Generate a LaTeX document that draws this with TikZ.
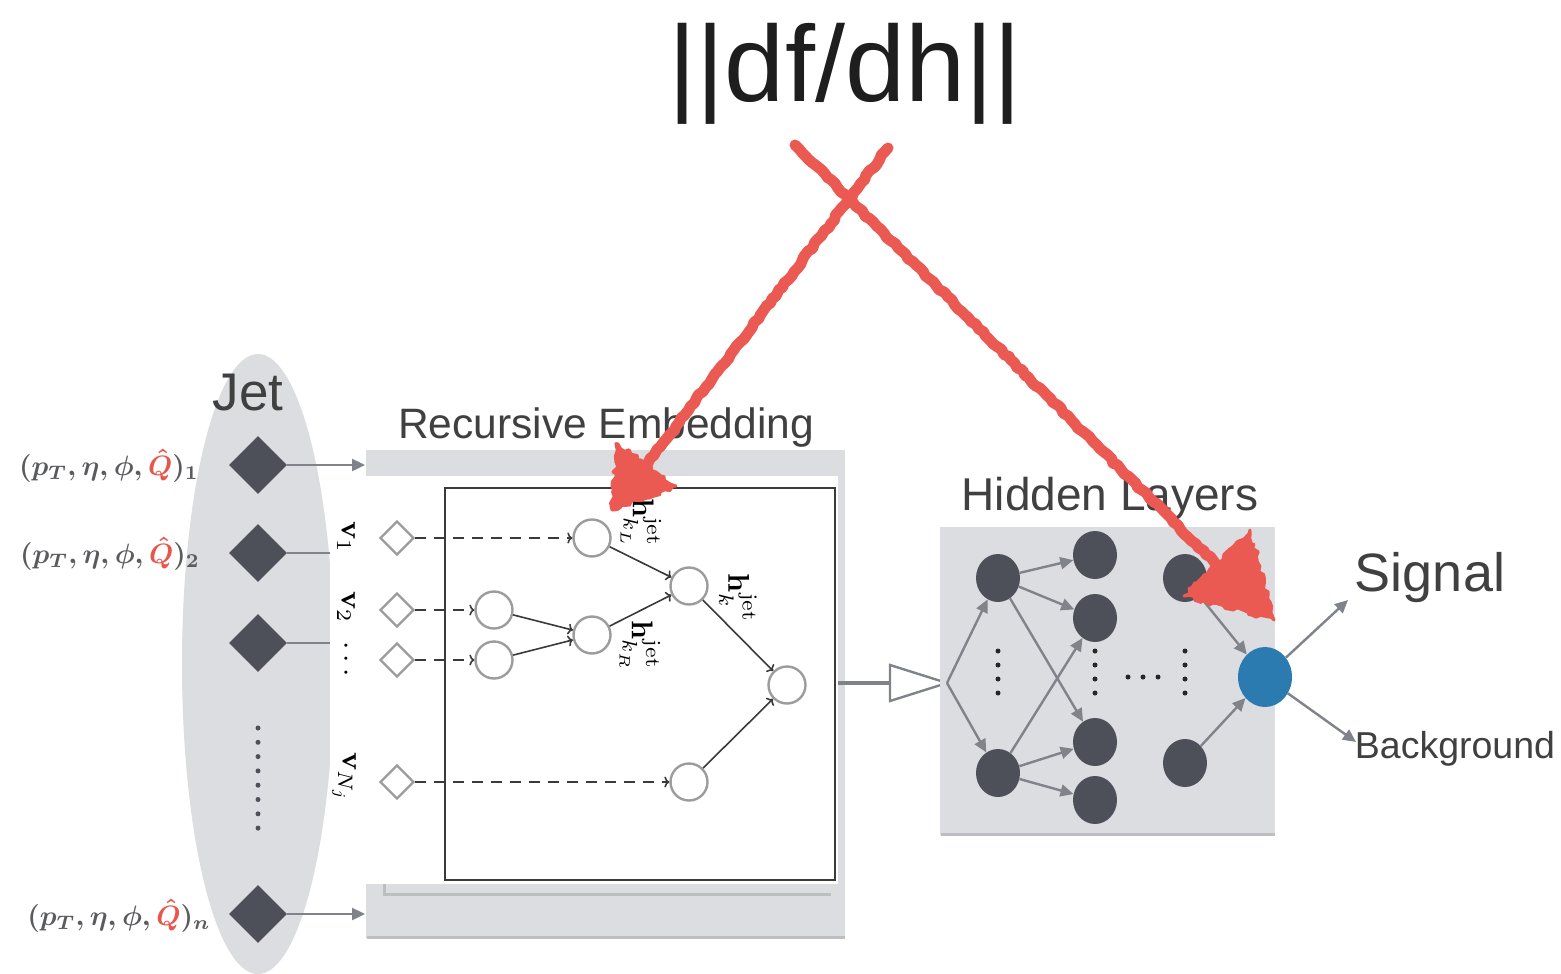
\documentclass[tikz,border=0pt]{standalone}
\usepackage[no-math]{fontspec}
\setmainfont{Liberation Sans}
\usetikzlibrary{arrows.meta,shapes.geometric,decorations.pathmorphing}

\definecolor{panelgray}{HTML}{DCDDE0}
\definecolor{shadowgray}{HTML}{BDBEC1}
\definecolor{nodedark}{HTML}{4D5059}
\definecolor{arrowgray}{HTML}{80838A}
\definecolor{ringgray}{HTML}{9C9C9C}
\definecolor{inkdark}{HTML}{3A3A3A}
\definecolor{labelgray}{HTML}{5A5B5E}
\definecolor{qred}{HTML}{E8554C}
\definecolor{outblue}{HTML}{2B7BB0}
\definecolor{penred}{HTML}{EA5A52}
\definecolor{titleink}{HTML}{1E1E1E}

\tikzset{
  jetdia/.style={diamond, fill=nodedark, minimum width=58pt, minimum height=58pt, inner sep=0pt},
  opendia/.style={diamond, draw=ringgray, line width=2.4pt, fill=white, minimum width=34pt, minimum height=34pt, inner sep=0pt},
  ring/.style={circle, draw=ringgray, line width=2.4pt, fill=white, minimum size=37pt, inner sep=0pt},
  hid/.style={ellipse, fill=nodedark, minimum width=44pt, minimum height=48pt, inner sep=0pt},
  outnode/.style={ellipse, fill=outblue, minimum width=54pt, minimum height=60pt, inner sep=0pt},
  garrow/.style={draw=arrowgray, line width=2.4pt, -{Triangle[length=13pt,width=12pt]}},
  gline/.style={draw=arrowgray, line width=2.4pt},
  dasharrow/.style={draw=inkdark, line width=1.6pt, dash pattern=on 11pt off 8pt, -{To[length=5pt,width=11pt]}},
  solidarrow/.style={draw=inkdark, line width=1.6pt, -{To[length=5pt,width=11pt]}},
  jetlabel/.style={scale=2.8, text=labelgray, font=\boldmath},
  vlabel/.style={rotate=-90, scale=3, text=black},
  hlabel/.style={rotate=-90, scale=3, text=black},
  dotmark/.style={circle, fill=nodedark, inner sep=0pt, minimum size=5pt},
  hdot/.style={circle, fill=black!85, inner sep=0pt, minimum size=5pt},
  redstroke/.style={draw=penred, line width=11pt, line cap=round, line join=round,
    decorate, decoration={random steps, segment length=5pt, amplitude=1.3pt}},
  redhead/.style={fill=penred, draw=penred, line width=3pt, line join=round,
    decorate, decoration={random steps, segment length=4pt, amplitude=2.5pt}},
  paneltitle/.style={text=titleink!85, anchor=base}
}

\begin{document}
\begin{tikzpicture}[x=1pt, y=-1pt]
\pgfmathsetseed{11}
\useasboundingbox (0,0) rectangle (1561,974);
\fill[white] (0,0) rectangle (1561,974);

% ---------- title ----------
\node[anchor=base, text=titleink, font=\fontsize{108}{120}\selectfont] (title) at (845,101) {||df/dh||};

% ---------- jet ----------
\fill[panelgray] (258,664) ellipse [x radius=76, y radius=310];
\node[paneltitle, font=\fontsize{53}{60}\selectfont] (jettitle) at (248,410) {Jet};

\node[jetdia] (j1) at (258,465) {};
\node[jetdia] (j2) at (258,553) {};
\node[jetdia] (j3) at (258,643) {};
\node[jetdia] (jn) at (258,914) {};
\foreach \k in {0,...,7} {
  \node[dotmark] (jd\k) at (258,{728+\k*14.3}) {};
}

\node[jetlabel] (l1) at (109,466) {$(p_T,\eta,\phi,{\color{qred}\hat{Q}})_1$};
\node[jetlabel] (l2) at (110,554) {$(p_T,\eta,\phi,{\color{qred}\hat{Q}})_2$};
\node[jetlabel] (ln) at (119,916) {$(p_T,\eta,\phi,{\color{qred}\hat{Q}})_n$};

% ---------- recursive embedding panel ----------
\node[paneltitle, font=\fontsize{42.5}{50}\selectfont] (rectitle) at (606,438) {Recursive Embedding};
\fill[panelgray] (366,450) rectangle (845,938);
\draw[shadowgray, line width=3pt] (367,937) -- (845,937);
\fill[white] (330,476) rectangle (838,884);
\draw[shadowgray, line width=3pt] (384,884) -- (384,894) -- (831,894);
\draw[inkdark, line width=1.6pt] (445,488) rectangle (835,880);

\coordinate (rin1) at (365,465);
\coordinate (rinn) at (365,914);
\coordinate (wl2) at (330,553);
\coordinate (wl3) at (330,643);
\draw[garrow] (j1.east) -- (rin1);
\draw[garrow] (jn.east) -- (rinn);
\draw[gline] (j2.east) -- (wl2);
\draw[gline] (j3.east) -- (wl3);

% leaves
\node[opendia] (d1) at (397,538) {};
\node[opendia] (d2) at (397,610) {};
\node[opendia] (d3) at (397,660) {};
\node[opendia] (dn) at (397,782) {};

\node[vlabel] (v1) at (346,537) {$\mathbf{v}_1$};
\node[vlabel] (v2) at (346,607) {$\mathbf{v}_2$};
\node[vlabel] (vd) at (346,659) {$\dots$};
\node[vlabel] (vn) at (344,777) {$\mathbf{v}_{N_j}$};

% tree nodes
\node[ring] (c1) at (592,538) {};
\node[ring] (c2) at (494,610) {};
\node[ring] (c3) at (494,660) {};
\node[ring] (c4) at (592,635) {};
\node[ring] (c5) at (689,586) {};
\node[ring] (c6) at (787,685) {};
\node[ring] (c7) at (689,782) {};

\draw[dasharrow] (d1.east) -- (c1.west);
\draw[dasharrow] (d2.east) -- (c2.west);
\draw[dasharrow] (d3.east) -- (c3.west);
\draw[dasharrow] (dn.east) -- (c7.west);

\draw[solidarrow] (c2) -- (c4);
\draw[solidarrow] (c3) -- (c4);
\draw[solidarrow] (c1) -- (c5);
\draw[solidarrow] (c4) -- (c5);
\draw[solidarrow] (c5) -- (c6);
\draw[solidarrow] (c7) -- (c6);

\node[hlabel] (hL) at (641,523) {$\mathbf{h}^{\mathrm{jet}}_{k_L}$};
\node[hlabel] (hR) at (640,646) {$\mathbf{h}^{\mathrm{jet}}_{k_R}$};
\node[hlabel] (hk) at (738,598) {$\mathbf{h}^{\mathrm{jet}}_{k}$};

% ---------- link to hidden layers ----------
\coordinate (wout) at (838,683);
\coordinate (tribase) at (890,683);
\draw[arrowgray, line width=4pt] (wout) -- (tribase);
\draw[arrowgray, line width=2.4pt, fill=white, line join=miter] (890,665) -- (947,683) -- (890,701) -- cycle;
\coordinate (tritip) at (947,683);

% ---------- hidden layers ----------
\node[paneltitle, font=\fontsize{46}{52}\selectfont] (hidtitle) at (1110,510) {Hidden Layers};
\fill[panelgray] (940,527) rectangle (1275,835);
\draw[shadowgray, line width=3pt] (941,834) -- (1275,834);

\node[hid] (a1) at (998,578) {};
\node[hid] (a2) at (998,773) {};
\node[hid] (b1) at (1095,555) {};
\node[hid] (b2) at (1095,618) {};
\node[hid] (b3) at (1095,742) {};
\node[hid] (b4) at (1095,800) {};
\node[hid] (e1) at (1185,578) {};
\node[hid] (e2) at (1185,763) {};
\node[outnode] (out) at (1265,677) {};

\foreach \xx/\nm in {998/p,1095/q,1185/r} {
  \foreach \k in {0,...,3} {
    \node[hdot] (\nm\k) at (\xx,{651+\k*14}) {};
  }
}
\foreach \k in {0,...,2} {
  \node[hdot] (s\k) at ({1128+\k*15},677) {};
}

\draw[garrow] (tritip) -- (a1);
\draw[garrow] (tritip) -- (a2);
\draw[garrow] (a1) -- (b1);
\draw[garrow] (a1) -- (b2);
\draw[garrow] (a1) -- (b3);
\draw[garrow] (a2) -- (b2);
\draw[garrow] (a2) -- (b3);
\draw[garrow] (a2) -- (b4);
\draw[garrow] (e1) -- (out);
\draw[garrow] (e2) -- (out);

% ---------- outputs ----------
\node[paneltitle, font=\fontsize{54}{60}\selectfont] (sig) at (1430,591) {Signal};
\node[paneltitle, font=\fontsize{37.5}{44}\selectfont] (bkg) at (1455,758) {Background};
\coordinate (sigend) at (1348,600);
\coordinate (bkgend) at (1356,742);
\draw[garrow] (out) -- (sigend);
\draw[garrow] (out) -- (bkgend);

% ---------- hand-drawn gradient arrows ----------
\coordinate (ra0) at (795,145);
\coordinate (ra1) at (1215,563);
\coordinate (raT) at (1274,620);
\coordinate (raL) at (1184,596);
\coordinate (raR) at (1250,530);
\coordinate (rb0) at (888,148);
\coordinate (rb1) at (648,463);
\coordinate (rbT) at (612,510);
\coordinate (rbL) at (618,444);
\coordinate (rbR) at (676,486);

\path[redstroke] (ra0) -- (ra1);
\path[redstroke] (rb0) -- (rb1);
\path[redhead] (raT) -- (raL) -- (raR) -- cycle;
\path[redhead] (rbT) -- (rbL) -- (rbR) -- cycle;
\end{tikzpicture}
\end{document}
